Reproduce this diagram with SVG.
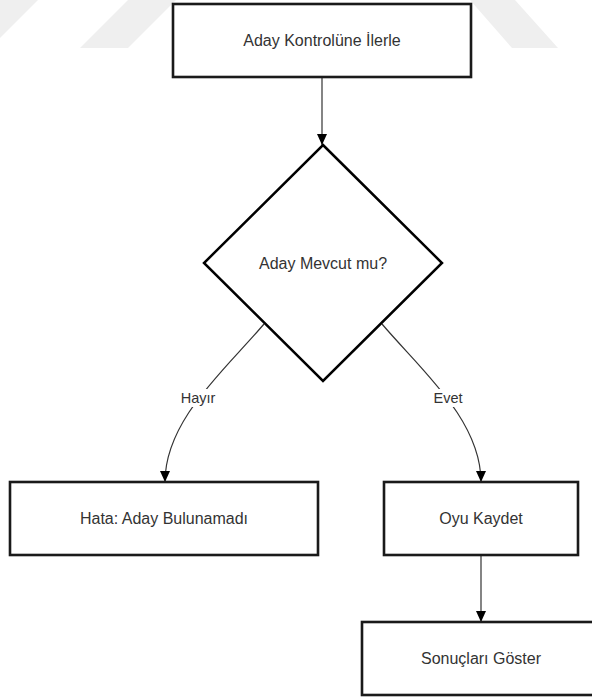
<svg xmlns="http://www.w3.org/2000/svg" width="592" height="697" viewBox="0 0 592 697">
  <style>
    .box { fill: #ffffff; stroke: #1a1a1a; stroke-width: 2.6; }
    .dec { fill: #ffffff; stroke: #000000; stroke-width: 2.5; }
    .lbl { font-family: "Liberation Sans", Arial, sans-serif; font-size: 16px; fill: #333333; text-anchor: middle; }
    .edge-lbl { font-family: "Liberation Sans", Arial, sans-serif; font-size: 14.5px; fill: #333333; text-anchor: middle; }
    .wire { fill: none; stroke: #333333; stroke-width: 1.2; }
    .wm { fill: #efefef; }
  </style>
  <defs>
    <marker id="arrow" markerUnits="userSpaceOnUse" markerWidth="11" markerHeight="10" viewBox="0 0 11 10" refX="11" refY="5" orient="auto">
      <path d="M0,0 L11,5 L0,10 z" fill="#000000"/>
    </marker>
  </defs>

  <rect width="592" height="697" fill="#ffffff"/>

  <!-- faint background bands -->
  <g id="backdrop">
    <polygon class="wm" points="0,0 38,0 0,38"/>
    <polygon class="wm" points="128,0 176,0 128,48 80,48"/>
    <polygon class="wm" points="470,0 515,0 558,48 512,48"/>
  </g>

  <!-- connectors -->
  <g id="connectors">
    <line class="wire" x1="322" y1="77" x2="322" y2="145" marker-end="url(#arrow)"/>
    <path class="wire" d="M264,324 C225,370 165,420 165,482" marker-end="url(#arrow)"/>
    <path class="wire" d="M382,324 C421,370 481,420 481,482" marker-end="url(#arrow)"/>
    <line class="wire" x1="481" y1="555" x2="481" y2="622" marker-end="url(#arrow)"/>
    <g id="edge-labels">
      <rect x="179" y="389" width="38" height="18" fill="#ffffff"/>
      <text class="edge-lbl" x="198" y="403">Hayır</text>
      <rect x="432" y="389" width="33" height="18" fill="#ffffff"/>
      <text class="edge-lbl" x="448" y="403">Evet</text>
    </g>
  </g>

  <g id="start">
    <rect class="box" x="173" y="4" width="298" height="73"/>
    <text class="lbl" x="322" y="46">Aday Kontrolüne İlerle</text>
  </g>

  <g id="check">
    <polygon class="dec" points="323,145 442,263 323,381 204,263"/>
    <text class="lbl" x="323" y="269">Aday Mevcut mu?</text>
  </g>

  <g id="error">
    <rect class="box" x="10" y="482" width="308" height="73"/>
    <text class="lbl" x="164" y="524">Hata: Aday Bulunamadı</text>
  </g>

  <g id="record">
    <rect class="box" x="384" y="482" width="194" height="73"/>
    <text class="lbl" x="481" y="524">Oyu Kaydet</text>
  </g>

  <g id="results">
    <rect class="box" x="362" y="622" width="240" height="73"/>
    <text class="lbl" x="481" y="664">Sonuçları Göster</text>
  </g>
</svg>
